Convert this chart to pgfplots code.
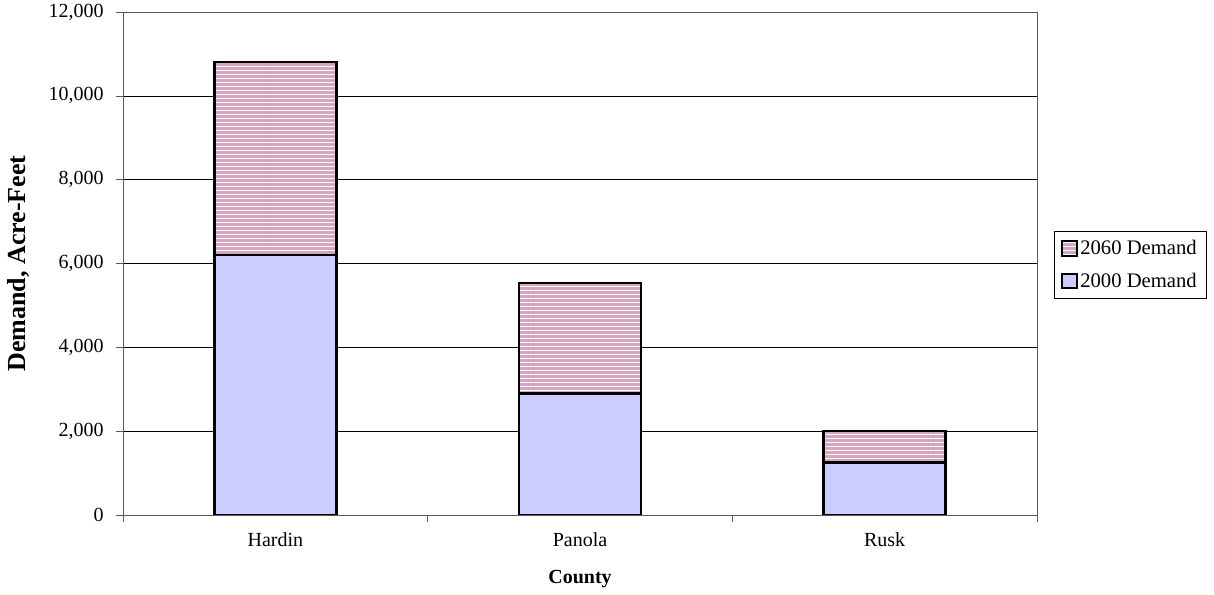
\documentclass[border=0pt]{standalone}
\usepackage{pgfplots}
\pgfplotsset{compat=1.18}
\usetikzlibrary{patterns}
\usepackage{fontspec}
\setmainfont{Liberation Serif}
\definecolor{pinkf}{RGB}{214,166,192}
\definecolor{bluef}{RGB}{204,204,255}
\definecolor{axgray}{RGB}{90,90,90}
\begin{document}
\begin{tikzpicture}
\path[use as bounding box] (0,0) rectangle (910.5pt,446.25pt);
\begin{axis}[
  at={(92.25pt,60pt)}, anchor=south west,
  scale only axis, width=685.5pt, height=377.25pt,
  xmin=0, xmax=3, ymin=0, ymax=12000,
  ybar stacked, bar width=91.5pt,
  xtick={0.5,1.5,2.5}, xticklabels={Hardin,Panola,Rusk},
  major x tick style={draw=none},
  minor xtick={0,1,2,3},
  minor x tick style={draw=axgray, thin},
  minor tick length=5pt,
  ytick={0,2000,4000,6000,8000,10000,12000},
  scaled y ticks=false,
  major tick length=5pt,
  tick align=outside, tick pos=left,
  ymajorgrids, grid style={black, thin},
  axis line style={axgray, semithick},
  y tick style={axgray, thin},
  /pgf/number format/1000 sep={,},
  /pgf/number format/assume math mode=true,
  tick label style={font=\fontsize{15}{17}\selectfont, black},
  yticklabel style={xshift=-6pt},
  xticklabel style={yshift=-5pt},
  xlabel={\textbf{County}}, ylabel={\textbf{Demand, Acre-Feet}},
  xlabel style={font=\fontsize{15}{17}\selectfont, at={(axis description cs:0.5,-0.1272)}, anchor=center},
  ylabel style={font=\fontsize{19.5}{22}\selectfont, at={(axis description cs:-0.1138,0.5)}, anchor=center, rotate=0},
  legend style={at={(rel axis cs:1,0.5)}, anchor=west, xshift=12.75pt, yshift=-1pt,
    draw=black, thin, font=\fontsize{15.5}{17}\selectfont, inner xsep=5pt, inner ysep=5pt,
    row sep=8pt, cells={anchor=west}},
  legend cell align=left,
  reverse legend,
  area legend,
  legend image code/.code={\draw[#1, line width=1.5pt] (0pt,-5.5pt) rectangle (11pt,5.5pt);},
]
\addplot[fill=bluef, draw=black, line width=1.8pt] coordinates {(0.5,6200) (1.5,2900) (2.5,1250)};
\addlegendentry{2000 Demand}
\addplot[fill=pinkf, draw=black, line width=1.8pt, postaction={pattern=horizontal lines, pattern color=white}] coordinates {(0.5,4600) (1.5,2630) (2.5,750)};
\addlegendentry{2060 Demand}
\end{axis}
\end{tikzpicture}
\end{document}
